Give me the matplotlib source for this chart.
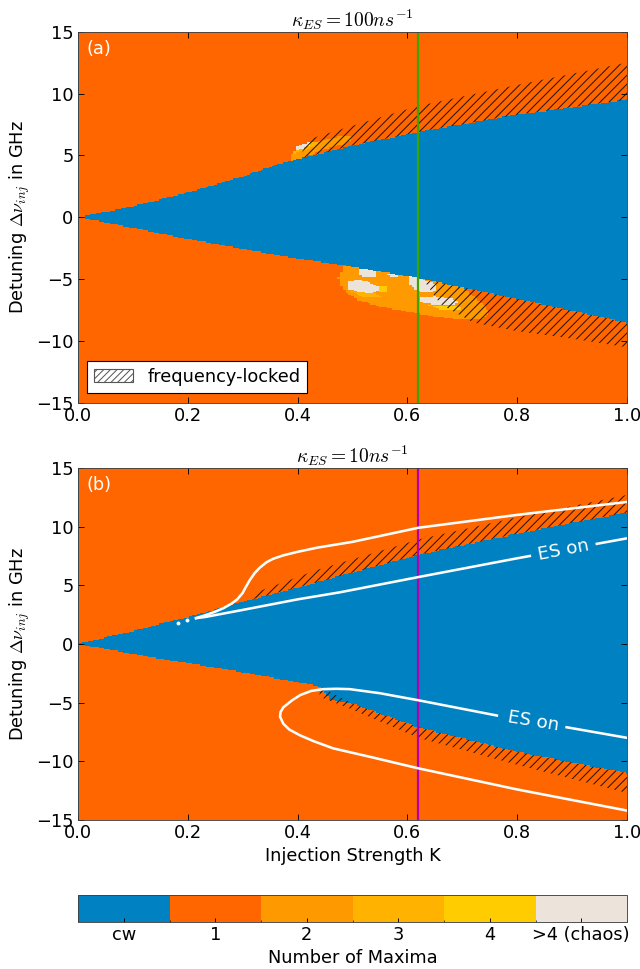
import numpy as np
import matplotlib
matplotlib.use("Agg")
import matplotlib.pyplot as plt
from matplotlib.colors import ListedColormap, BoundaryNorm
from matplotlib.path import Path
from matplotlib.patches import Patch

# colours for: cw, 1, 2, 3, 4, >4 maxima
level_colors = ["#0081C2", "#FF6600", "#FF9900", "#FFB300", "#FFCC00", "#ECE3DA"]
level_labels = ["cw", "1", "2", "3", "4", ">4 (chaos)"]

# ---- panel (a), kappa_ES = 100 / ns ----
a_blue_k = [0, 0.1, 0.2, 0.3, 0.368, 0.5, 0.62, 0.8, 1.0]
a_blue_hi = [0, 0.9, 2.0, 3.3, 4.35, 5.8, 6.9, 8.3, 9.5]
a_blue_lo_k = [0, 0.1, 0.2, 0.368, 0.5, 0.62, 0.8, 1.0]
a_blue_lo = [0, -0.85, -1.75, -3.1, -4.0, -4.9, -6.6, -8.5]

# hatched (frequency-locked) bands: K and outer edge, inner edge = blue border
a_lock_hi_k = [0.405, 0.42, 0.5, 0.62, 0.8, 1.0]
a_lock_hi = [5.0, 6.3, 7.4, 9.0, 10.7, 12.5]
a_lock_lo_k = [0.63, 0.66, 0.72, 0.8, 0.9, 1.0]
a_lock_lo = [-5.1, -7.0, -8.5, -9.2, -9.8, -10.5]

# periodic / chaotic islands: number of maxima, K outline, detuning outline
a_islands = [
    (2, [0.385, 0.39, 0.40, 0.42, 0.45, 0.48, 0.50, 0.50, 0.48, 0.45, 0.42, 0.40],
        [4.4, 5.2, 5.6, 5.9, 6.3, 6.55, 6.6, 6.2, 5.9, 5.5, 5.0, 4.6]),
    (3, [0.39, 0.405, 0.43, 0.44, 0.42, 0.40],
        [5.1, 5.35, 5.7, 6.1, 6.0, 5.7]),
    (5, [0.395, 0.41, 0.425, 0.42, 0.405, 0.398],
        [5.45, 5.55, 5.8, 6.0, 5.9, 5.7]),
    (2, [0.488, 0.482, 0.475, 0.478, 0.49, 0.51, 0.55, 0.60, 0.65, 0.70,
         0.735, 0.75, 0.74, 0.72, 0.70, 0.70],
        [-3.6, -4.3, -4.9, -5.4, -6.1, -6.7, -7.2, -7.6, -8.0, -8.3,
         -8.2, -7.7, -7.1, -6.4, -5.6, -5.0]),
    (3, [0.50, 0.54, 0.56, 0.52], [-6.0, -6.15, -6.5, -6.5]),
    (4, [0.64, 0.69, 0.70, 0.66], [-7.1, -7.15, -7.4, -7.4]),
    (4, [0.545, 0.565, 0.565, 0.55], [-5.6, -5.6, -6.1, -6.1]),
    (5, [0.49, 0.51, 0.53, 0.545, 0.55, 0.535, 0.51, 0.495, 0.49],
        [-5.15, -5.05, -5.2, -5.5, -5.9, -6.15, -6.05, -5.8, -5.5]),
    (5, [0.512, 0.53, 0.545, 0.54, 0.52, 0.513],
        [-4.15, -4.05, -4.4, -4.8, -4.85, -4.5]),
    (5, [0.565, 0.58, 0.585, 0.57], [-4.6, -4.55, -4.8, -4.85]),
    (5, [0.60, 0.62, 0.635, 0.65, 0.655, 0.64, 0.62, 0.605],
        [-4.75, -4.85, -5.1, -5.3, -5.9, -6.1, -6.0, -5.5]),
    (5, [0.62, 0.65, 0.68, 0.695, 0.685, 0.65, 0.625],
        [-6.45, -6.4, -6.55, -6.8, -7.1, -7.05, -6.9]),
]

# ---- panel (b), kappa_ES = 10 / ns ----
b_blue_k = [0, 0.1, 0.2, 0.3, 0.4, 0.5, 0.62, 0.8, 1.0]
b_blue_hi = [0, 1.1, 2.3, 3.6, 4.8, 6.1, 7.6, 9.4, 11.2]
b_blue_lo_k = [0, 0.13, 0.3, 0.44, 0.46, 0.5, 0.62, 0.8, 1.0]
b_blue_lo = [0, -1.1, -2.4, -3.6, -4.7, -5.1, -7.1, -9.2, -11.0]

b_lock_hi_k = [0.31, 0.33, 0.435, 0.62, 0.8, 1.0]
b_lock_hi = [3.9, 4.5, 6.3, 8.9, 10.8, 12.7]
b_lock_lo_k = [0.44, 0.5, 0.62, 0.8, 1.0]
b_lock_lo = [-4.5, -5.6, -8.0, -10.3, -12.7]

# white ES-threshold curves: upper loop (outer branch then inner branch)
b_es_up_k = [1.0, 0.8, 0.62, 0.5, 0.435, 0.40, 0.374, 0.355, 0.343, 0.331,
             0.322, 0.313, 0.305, 0.30, 0.29, 0.28, 0.265, 0.25, 0.232, 0.215,
             0.232, 0.30, 0.40, 0.477, 0.62, 0.8, 1.0]
b_es_up_d = [12.1, 11.0, 9.9, 8.7, 8.2, 7.85, 7.55, 7.25, 6.95, 6.5,
             6.05, 5.45, 4.8, 4.35, 3.8, 3.45, 3.05, 2.75, 2.45, 2.2,
             2.3, 2.9, 3.8, 4.4, 5.7, 7.3, 9.0]
b_es_dots_k = [0.182, 0.199]
b_es_dots_d = [1.8, 2.0]
# lower loop, from the right end of the ES branch round to the outer branch
b_es_lo_k = [1.0, 0.89, 0.763, 0.62, 0.55, 0.495, 0.47, 0.447, 0.425, 0.405,
             0.39, 0.374, 0.369, 0.368, 0.374, 0.385, 0.405, 0.43, 0.465,
             0.53, 0.62, 0.8, 1.0]
b_es_lo_d = [-8.0, -7.1, -6.1, -4.8, -4.2, -3.85, -3.82, -3.85, -4.0, -4.35,
             -4.8, -5.4, -5.8, -6.2, -6.8, -7.3, -7.8, -8.3, -8.9,
             -9.6, -10.6, -12.4, -14.2]

K_cut = 0.62

plt.rcParams.update({
    "font.family": ["DejaVu Sans"],
    "mathtext.fontset": "cm",
    "font.size": 16,
    "xtick.direction": "in",
    "ytick.direction": "in",
    "xtick.top": True,
    "ytick.right": True,
    "xtick.major.size": 5,
    "ytick.major.size": 5,
    "xtick.major.pad": 4,
    "ytick.major.pad": 4,
    "axes.edgecolor": "#404040",
    "hatch.linewidth": 0.9,
})

cmap = ListedColormap(level_colors)
norm = BoundaryNorm(np.arange(-0.5, 6.5, 1), cmap.N)

K = np.linspace(0, 1, 201)
D = np.linspace(-15, 15, 301)
KK, DD = np.meshgrid(K, D)
pts = np.column_stack([KK.ravel(), DD.ravel()])


def classify(bk, bhi, blk, blo, islands):
    Z = np.ones(KK.shape, dtype=int)
    for level, pk, pd in islands:
        inside = Path(np.column_stack([pk, pd])).contains_points(pts)
        Z[inside.reshape(KK.shape)] = level
    hi = np.interp(K, bk, bhi)
    lo = np.interp(K, blk, blo)
    Z[(DD <= hi) & (DD >= lo)] = 0
    Z[:, 0] = 0
    return Z


def hatch_band(ax, k, outer, bk, bb):
    k = np.asarray(k)
    inner = np.interp(k, bk, bb)
    ax.fill_between(k, inner, outer, facecolor="none", edgecolor="#2a1200",
                    hatch="///", linewidth=0)


fig = plt.figure(figsize=(8, 12.1125), dpi=80)
ax_a = fig.add_axes([0.1219, 0.5841, 0.8578, 0.3832])
ax_b = fig.add_axes([0.1219, 0.1538, 0.8578, 0.3633])
cax = fig.add_axes([0.1219, 0.0485, 0.8578, 0.0279])

Za = classify(a_blue_k, a_blue_hi, a_blue_lo_k, a_blue_lo, a_islands)
Zb = classify(b_blue_k, b_blue_hi, b_blue_lo_k, b_blue_lo, [])

mesh = ax_a.pcolormesh(K, D, Za, cmap=cmap, norm=norm, shading="nearest",
                       rasterized=True)
ax_b.pcolormesh(K, D, Zb, cmap=cmap, norm=norm, shading="nearest",
                rasterized=True)

hatch_band(ax_a, a_lock_hi_k, a_lock_hi, a_blue_k, a_blue_hi)
hatch_band(ax_a, a_lock_lo_k, a_lock_lo, a_blue_lo_k, a_blue_lo)
hatch_band(ax_b, b_lock_hi_k, b_lock_hi, b_blue_k, b_blue_hi)
hatch_band(ax_b, b_lock_lo_k, b_lock_lo, b_blue_lo_k, b_blue_lo)

ax_a.axvline(K_cut, color="#3CA400", lw=2)
ax_b.axvline(K_cut, color="#B000B0", lw=2)

# upper loop: outer branch up to the tip, then the ES branch with a label gap
up_k = np.array(b_es_up_k)
up_d = np.array(b_es_up_d)
tip = int(np.argmin(up_k))
ax_b.plot(up_k[:tip + 1], up_d[:tip + 1], color="white", lw=2.3,
          solid_joinstyle="round")
inner_k, inner_d = up_k[tip:], up_d[tip:]
gap0, gap1 = 0.823, 0.945
d1 = np.interp(gap0, inner_k, inner_d)
d2 = np.interp(gap1, inner_k, inner_d)
seg = inner_k < gap0
ax_b.plot(np.append(inner_k[seg], gap0), np.append(inner_d[seg], d1),
          color="white", lw=2.3)
ax_b.plot([gap1, inner_k[-1]], [d2, inner_d[-1]], color="white", lw=2.3)
ax_b.plot(b_es_dots_k, b_es_dots_d, "o", color="white", ms=3.5, mec="none")

# lower loop: gap between the first two points for the label
ax_b.plot(b_es_lo_k[:2], b_es_lo_d[:2], color="white", lw=2.3)
ax_b.plot(b_es_lo_k[2:], b_es_lo_d[2:], color="white", lw=2.3,
          solid_joinstyle="round")

ax_b.text(0.884, 8.0, "ES on", color="white", rotation=11, ha="center",
          va="center", fontsize=16.5)
ax_b.text(0.829, -6.6, "ES on", color="white", rotation=-9.5, ha="center",
          va="center", fontsize=16.5)

for ax, tag, title in [(ax_a, "(a)", r"$\kappa_{ES}=100ns^{-1}$"),
                       (ax_b, "(b)", r"$\kappa_{ES}=10ns^{-1}$")]:
    ax.set_xlim(0, 1)
    ax.set_ylim(-15, 15)
    ax.set_xticks(np.arange(0, 1.01, 0.2))
    ax.set_yticks(np.arange(-15, 16, 5))
    ax.set_ylabel(r"Detuning $\Delta\nu_{inj}$ in GHz", labelpad=4)
    ax.set_title(title, fontsize=17.5, pad=3)
    ax.text(0.015, 0.978, tag, transform=ax.transAxes, color="white",
            ha="left", va="top", fontsize=16)

ax_b.set_xlabel("Injection Strength K", labelpad=4)

leg = ax_a.legend(handles=[Patch(facecolor="white", edgecolor="#555555",
                                 hatch="////", label="frequency-locked")],
                  loc="lower left", bbox_to_anchor=(0.016, 0.027),
                  borderaxespad=0, fancybox=False, framealpha=1,
                  edgecolor="black", fontsize=16, handlelength=2.2)
leg.get_frame().set_linewidth(1.0)

cb = fig.colorbar(mesh, cax=cax, orientation="horizontal", ticks=range(6))
cb.set_ticklabels(level_labels)
cb.set_label("Number of Maxima")
cax.tick_params(direction="in", length=4)
cb.outline.set_edgecolor("#404040")

fig.savefig("out.png", dpi=80)
